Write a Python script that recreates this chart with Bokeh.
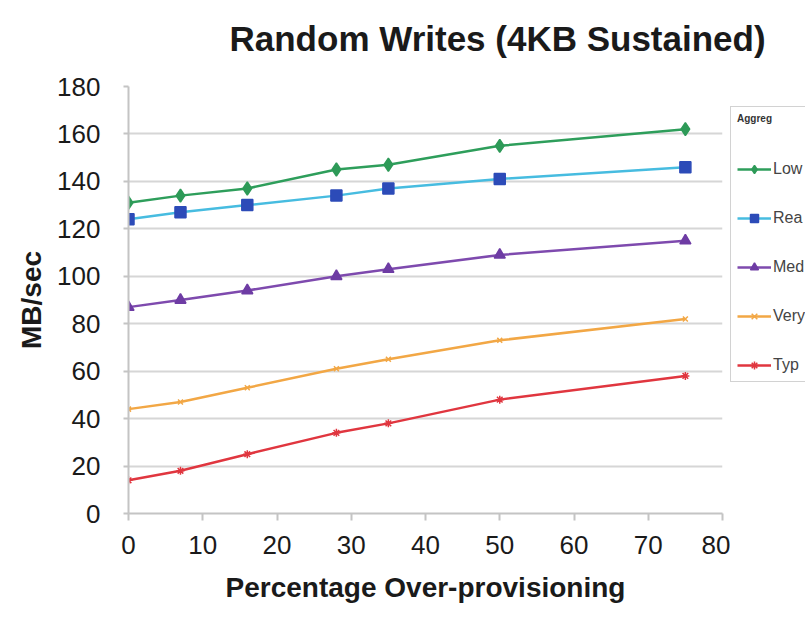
from bokeh.plotting import figure
from bokeh.models import Legend, LegendItem, Range1d, FixedTicker
from bokeh.layouts import column, row
from bokeh.embed import file_html
from bokeh.resources import INLINE

x_pct = [0, 7, 16, 28, 35, 50, 75]
low = [131, 134, 137, 145, 147, 155, 162]
rea = [124, 127, 130, 134, 137, 141, 146]
med = [87, 90, 94, 100, 103, 109, 115]
very = [44, 47, 53, 61, 65, 73, 82]
typ = [14, 18, 25, 34, 38, 48, 58]
labels = ["Low", "Rea", "Med", "Very", "Typ"]
legend_title = "Aggreg"
x_ticks = [0, 10, 20, 30, 40, 50, 60, 70, 80]
y_ticks = [0, 20, 40, 60, 80, 100, 120, 140, 160, 180]

FONT = "Liberation Sans"
TXT = "#1a1a1a"

# ---- title strip ----
tf = figure(width=805, height=62, output_backend="svg", toolbar_location=None,
            x_axis_location=None, y_axis_location=None,
            min_border=0, min_border_left=0, min_border_right=0,
            min_border_top=58, min_border_bottom=0)
tf.outline_line_color = None
tf.grid.visible = False
tf.title.text = "Random Writes (4KB Sustained)"
tf.title.text_font = FONT
tf.title.text_font_size = "35px"
tf.title.text_font_style = "bold"
tf.title.text_color = TXT
tf.title.align = "left"
tf.title.offset = 229
tf.title.standoff = 1

# ---- main chart ----
p = figure(width=730, height=555, output_backend="svg", toolbar_location=None,
           x_range=Range1d(0, 80), y_range=Range1d(0, 180),
           min_border_left=128, min_border_top=24, min_border_bottom=104, min_border_right=8)
p.outline_line_color = None

for ax in (p.xaxis[0], p.yaxis[0]):
    ax.axis_line_color = "#C4C4C4"
    ax.axis_line_width = 2
    ax.major_tick_line_color = "#C4C4C4"
    ax.major_tick_line_width = 2
    ax.minor_tick_line_color = None
    ax.major_tick_in = 0
    ax.major_label_text_font = FONT
    ax.major_label_text_font_size = "26px"
    ax.major_label_text_color = TXT
    ax.axis_label_text_font = FONT
    ax.axis_label_text_font_style = "bold"
    ax.axis_label_text_color = TXT

p.xaxis.ticker = FixedTicker(ticks=x_ticks)
p.yaxis.ticker = FixedTicker(ticks=y_ticks)
p.xaxis.major_tick_out = 7
p.yaxis.major_tick_out = 5
p.xaxis.major_label_standoff = 15
p.yaxis.major_label_standoff = 23
p.xaxis.axis_label = "Percentage Over-provisioning"
p.xaxis.axis_label_text_font_size = "28px"
p.xaxis.axis_label_standoff = 15
p.yaxis.axis_label = "MB/sec"
p.yaxis.axis_label_text_font_size = "28px"
p.yaxis.axis_label_standoff = 7

p.xgrid.grid_line_color = None
p.ygrid.grid_line_color = "#D6D6D6"
p.ygrid.grid_line_width = 2

series = [
    (low, "#2E9E5B", "diamond", "#2E9A58", 13, 9),
    (rea, "#47BCE0", "square", "#2C4BB8", 11, 8),
    (med, "#7E4AAE", "triangle", "#6E3CA4", 11, 8),
    (very, "#F2A745", "x", "#F2A745", 7, 6),
    (typ, "#E0363F", "asterisk", "#E0363F", 8, 6),
]
for ys, lc, mk, mc, ms, _ in series:
    p.line(x_pct, ys, line_color=lc, line_width=2.5)
    p.scatter(x_pct, ys, marker=mk, size=ms, fill_color=mc, line_color=mc, line_width=1.5)

# ---- legend strip (cut at the right edge like the reference) ----
lf = figure(width=75, height=555, output_backend="svg", toolbar_location=None,
            x_range=Range1d(1000, 1001), y_range=Range1d(1000, 1001),
            x_axis_location=None, y_axis_location=None,
            min_border=0, min_border_left=0, min_border_right=0,
            min_border_top=0, min_border_bottom=0)
lf.outline_line_color = None
lf.grid.visible = False
items = []
for (ys, lc, mk, mc, ms, lms), lab in zip(series, labels):
    r1 = lf.line(x_pct, ys, line_color=lc, line_width=2.5)
    r2 = lf.scatter(x_pct, ys, marker=mk, size=lms, fill_color=mc, line_color=mc, line_width=1.5)
    items.append(LegendItem(label=lab, renderers=[r1, r2]))

legend = Legend(items=items, location=(0, 131), title=legend_title,
                title_text_font=FONT, title_text_font_size="10px", title_text_font_style="bold",
                title_text_color="#333333", title_standoff=35,
                label_text_font=FONT, label_text_font_size="16px", label_text_color="#444444",
                glyph_width=34, glyph_height=20, label_height=20, label_standoff=2,
                spacing=29, padding=6, margin=0,
                border_line_color="#A6A6A6", border_line_width=1.5,
                background_fill_color="#FFFFFF")
lf.add_layout(legend, "center")

layout = column(tf, row(p, lf, spacing=0), spacing=0)
open("out.html", "w").write(file_html(layout, INLINE))
